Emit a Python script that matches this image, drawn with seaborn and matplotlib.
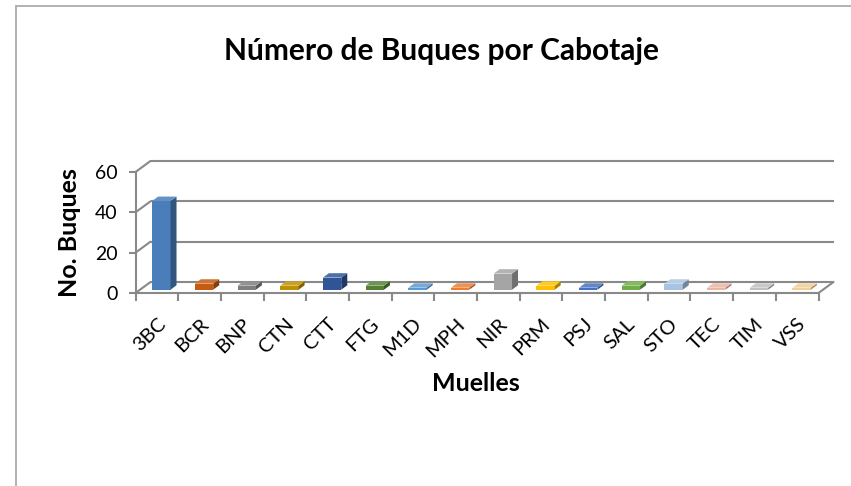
import numpy as np
import pandas as pd
import seaborn as sns
import matplotlib
matplotlib.use("Agg")
import matplotlib.pyplot as plt
from matplotlib.patches import Polygon
from matplotlib.lines import Line2D
from matplotlib.transforms import Affine2D
import matplotlib.colors as mcolors

# ---- data ----
categories = ["3BC", "BCR", "BNP", "CTN", "CTT", "FTG", "M1D", "MPH",
              "NIR", "PRM", "PSJ", "SAL", "STO", "TEC", "TIM", "VSS"]
values = [44, 3, 2, 2, 6, 2, 1, 1, 8, 2, 1, 2, 3, 1, 1, 1]
colors = ["#4A7EBB", "#C55A11", "#7F7F7F", "#BF9000", "#2F5597", "#548235",
          "#5B9BD5", "#ED7D31", "#A5A5A5", "#FFC000", "#4472C4", "#70AD47",
          "#A9C4E2", "#EBB5A2", "#C0C0C0", "#F2CF95"]
yticks = [0, 20, 40, 60]
title = "Número de Buques por Cabotaje"
xlabel = "Muelles"
ylabel = "No. Buques"

sns.set_style("white")
plt.rcParams["font.family"] = ["Lato", "DejaVu Sans"]

W, H = 851, 486
fig = plt.figure(figsize=(W / 100, H / 100), dpi=100)
ax = fig.add_axes([135.5 / W, (H - 293) / H, 683 / W, 121 / H])

df = pd.DataFrame({"Muelle": categories, "Buques": values})
sns.barplot(data=df, x="Muelle", y="Buques", hue="Muelle", palette=colors,
            legend=False, width=0.43, saturation=1, ax=ax, zorder=3)
ax.set_xlim(-0.5, len(categories) - 0.5)
ax.set_ylim(yticks[0], yticks[-1])

GRID = "#898989"
LW = 1.5
DX, DY = 15, 11          # depth offset of back wall, pixels
F1, F2 = 0.3, 0.7        # depth fractions of bar front / back faces
back = ax.transData + Affine2D().translate(DX, DY)


def shift(x, y, f):
    d = ax.transData.transform((x, y)) + np.array([f * DX, f * DY])
    return ax.transData.inverted().transform(d)


xl, xr = ax.get_xlim()
# back wall gridlines
for v in yticks:
    ax.plot([xl, xr], [v, v], transform=back, color=GRID, lw=LW,
            clip_on=False, zorder=1, solid_capstyle="butt")
    p0, p1 = shift(xl, v, 0), shift(xl, v, 1)
    ax.plot([p0[0], p1[0]], [p0[1], p1[1]], color=GRID, lw=LW,
            clip_on=False, zorder=1)
# right floor edge
p0, p1 = shift(xr, 0, 0), shift(xr, 0, 1)
ax.plot([p0[0], p1[0]], [p0[1], p1[1]], color=GRID, lw=LW, clip_on=False, zorder=1)

# pseudo-3D bars
for p in list(ax.patches):
    x0, w, h = p.get_x(), p.get_width(), p.get_height()
    fc = np.array(mcolors.to_rgb(p.get_facecolor()))
    p.set_transform(ax.transData + Affine2D().translate(F1 * DX, F1 * DY))
    p.set_edgecolor("none")
    p.set_clip_on(False)
    side = [shift(x0 + w, 0, F1), shift(x0 + w, 0, F2),
            shift(x0 + w, h, F2), shift(x0 + w, h, F1)]
    top = [shift(x0, h, F1), shift(x0 + w, h, F1),
           shift(x0 + w, h, F2), shift(x0, h, F2)]
    ax.add_patch(Polygon(side, closed=True, facecolor=fc * 0.68,
                         edgecolor="none", zorder=3, clip_on=False))
    ax.add_patch(Polygon(top, closed=True, facecolor=fc + (1 - fc) * 0.15,
                         edgecolor="none", zorder=3, clip_on=False))

# spines (front axis and floor front edge)
for s in ["top", "right"]:
    ax.spines[s].set_visible(False)
for s in ["left", "bottom"]:
    ax.spines[s].set_color(GRID)
    ax.spines[s].set_linewidth(LW)
    ax.spines[s].set_zorder(2)

ax.set_yticks(yticks)
ax.set_yticklabels([str(v) for v in yticks])
ax.tick_params(axis="y", length=5, width=LW, color=GRID, pad=8,
               labelsize=14, labelcolor="black", direction="out", left=True)
ax.set_xticks(range(len(categories)))
ax.set_xticklabels(categories, rotation=45, ha="right", rotation_mode="anchor")
ax.tick_params(axis="x", which="major", length=0, pad=16, labelsize=14.5,
               labelcolor="black")
ax.set_xticks(np.arange(xl, xr + 0.01, 1), minor=True)
ax.tick_params(axis="x", which="minor", length=6, width=LW, color=GRID,
               direction="out", bottom=True)

ax.set_xlabel(xlabel, fontsize=18, fontweight="bold", va="center", color="black")
ax.set_ylabel(ylabel, fontsize=18, fontweight="bold", va="center", color="black")
ax.xaxis.set_label_coords((476 - 135.5) / 683, (293 - 383) / 121)
ax.yaxis.set_label_coords((70 - 135.5) / 683, (293 - 233) / 121)
ax.grid(False)

fig.text(441 / W, 1 - 51 / H, title, ha="center", va="center",
         fontsize=21.5, fontweight="bold", color="black")

# chart frame
fc_ = "#A6A6A6"
fig.add_artist(Line2D([15.5 / W, 15.5 / W], [0, 1 - 6.5 / H],
                      transform=fig.transFigure, color=fc_, lw=1.2))
fig.add_artist(Line2D([15.5 / W, 1], [1 - 6.5 / H, 1 - 6.5 / H],
                      transform=fig.transFigure, color=fc_, lw=1.2))

fig.savefig("out.png", dpi=100)
